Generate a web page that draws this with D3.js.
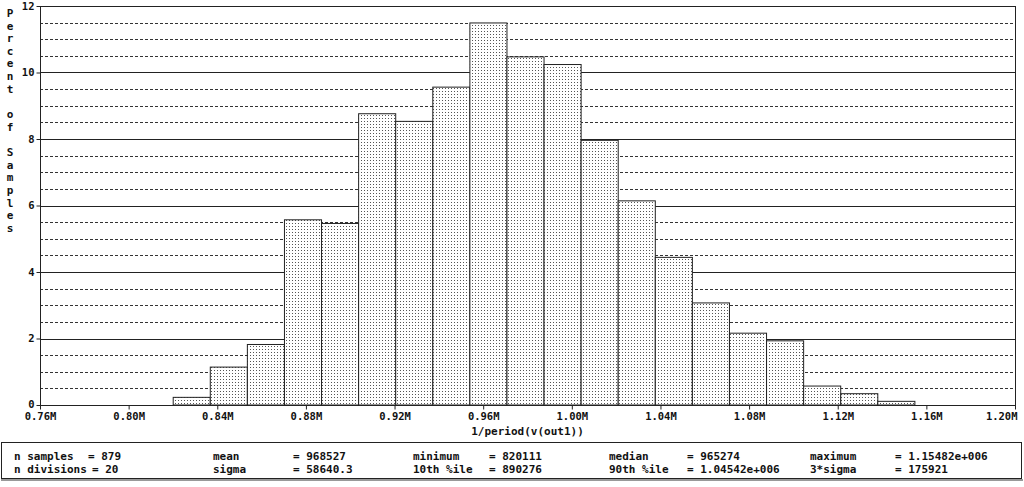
<!DOCTYPE html>
<html><head><meta charset="utf-8">
<script src="https://cdn.jsdelivr.net/npm/d3@7"></script>
<style>body{margin:0;background:#fff;} svg{display:block;} text{font-family:"DejaVu Sans Mono",monospace;font-weight:bold;font-size:11px;fill:#111;}</style>
</head><body>
<svg id="c" width="1024" height="487"></svg>
<script>
// Data
const binStart = 820111;
const binWidth = 16735.45;
const percents = [0.23,1.14,1.82,5.57,5.46,8.76,8.53,9.56,11.49,10.47,10.24,7.96,6.14,4.44,3.07,2.16,1.93,0.57,0.34,0.11];
const xTicks = [0.76,0.80,0.84,0.88,0.92,0.96,1.00,1.04,1.08,1.12,1.16,1.20];
const yTicks = [0,2,4,6,8,10,12];
const yLabel = "Percent of Samples";
const xTitle = "1/period(v(out1))";
const statLabels = [["n samples","n divisions"],["mean","sigma"],["minimum","10th %ile"],["median","90th %ile"],["maximum","3*sigma"]];
const statValues = [["879","20"],["968527","58640.3"],["820111","890276"],["965274","1.04542e+006"],["1.15482e+006","175921"]];

const svg = d3.select("#c");
const L=40, R=1015, T=6, B=405;
const x = d3.scaleLinear().domain([760000,1200000]).range([L,R]);
const y = d3.scaleLinear().domain([0,12]).range([B,T]);

// dot pattern
const defs = svg.append("defs");
const pat = defs.append("pattern").attr("id","dots").attr("width",3).attr("height",3).attr("patternUnits","userSpaceOnUse");
pat.append("rect").attr("width",3).attr("height",3).attr("fill","#fff");
pat.append("rect").attr("x",1).attr("y",1).attr("width",1).attr("height",1).attr("fill","#555");

// grid
const minor = d3.range(0.5,12,0.5).filter(v=>v%2!==0);
svg.append("g").selectAll("line").data(minor).join("line")
  .attr("x1",L).attr("x2",R).attr("y1",d=>Math.round(y(d))+0.5).attr("y2",d=>Math.round(y(d))+0.5)
  .attr("stroke","#333").attr("stroke-dasharray","3,2");
svg.append("g").selectAll("line").data([2,4,6,8,10]).join("line")
  .attr("x1",L).attr("x2",R).attr("y1",d=>Math.round(y(d))+0.5).attr("y2",d=>Math.round(y(d))+0.5)
  .attr("stroke","#222");

// bars
svg.append("g").selectAll("rect").data(percents).join("rect")
  .attr("x",(d,i)=>x(binStart+i*binWidth))
  .attr("width",(d,i)=>x(binStart+(i+1)*binWidth)-x(binStart+i*binWidth))
  .attr("y",d=>y(d)).attr("height",d=>B-y(d))
  .attr("fill","url(#dots)").attr("stroke","#222").attr("stroke-width",1);

// frame
svg.append("rect").attr("x",L+0.5).attr("y",T+0.5).attr("width",R-L).attr("height",B-T)
  .attr("fill","none").attr("stroke","#222");

// axes
const xAxis = d3.axisBottom(x).tickValues(xTicks.map(v=>v*1e6)).tickSize(4).tickSizeOuter(0)
  .tickFormat(d=>(d/1e6).toFixed(2)+"M");
const gx = svg.append("g").attr("transform",`translate(0,${B+0.5})`).call(xAxis);
gx.select(".domain").remove();
gx.selectAll("text").attr("dy","0.71em").attr("y",7);
gx.selectAll(".tick").filter((d,i,n)=>i===n.length-1).select("text").attr("text-anchor","end").attr("x",2);
const yAxis = d3.axisLeft(y).tickValues(yTicks).tickSize(4).tickSizeOuter(0).tickFormat(d3.format("d"));
const gy = svg.append("g").attr("transform",`translate(${L+0.5},0)`).call(yAxis);
gy.select(".domain").remove();
gy.selectAll("text").attr("x",-6);
gy.selectAll(".tick").filter(d=>d===0).select("text").attr("dy","0.2em");
svg.selectAll(".tick line").attr("stroke","#222");
svg.selectAll(".tick text").style("font-family","'DejaVu Sans Mono',monospace").style("font-weight","bold").style("font-size","10.5px").attr("fill","#111");

// y label vertical stacked
svg.append("g").selectAll("text").data(yLabel.split("")).join("text")
  .attr("x",10).attr("y",(d,i)=>13+i*12.65).attr("dy","0.35em").attr("text-anchor","middle").text(d=>d);

// x title
svg.append("text").attr("x",(L+R)/2).attr("y",431).attr("dy","0.35em").attr("text-anchor","middle").text(xTitle);

// stats box
svg.append("rect").attr("x",1.5).attr("y",442.5).attr("width",1020).attr("height",36).attr("fill","#fff").attr("stroke","#222");
svg.append("line").attr("x1",1).attr("x2",1023).attr("y1",480).attr("y2",480).attr("stroke","#999").attr("stroke-width",2);
const labX=[14,213,413,609,810], eqX=[[88,92],[293,293],[489,489],[687,687],[895,895]], rowY=[456,469];
statLabels.forEach((col,ci)=>{
  col.forEach((lab,ri)=>{
    svg.append("text").attr("x",labX[ci]).attr("y",rowY[ri]).attr("dy","0.35em").text(lab);
    svg.append("text").attr("x",eqX[ci][ri]).attr("y",rowY[ri]).attr("dy","0.35em").text("= "+statValues[ci][ri]);
  });
});
</script>
</body></html>
